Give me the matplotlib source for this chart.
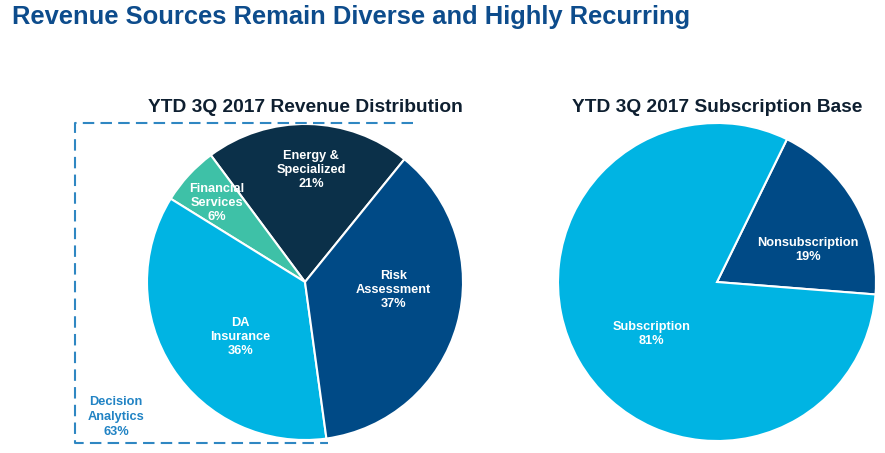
import matplotlib.pyplot as plt
from matplotlib.lines import Line2D

plt.rcParams["font.family"] = ["Liberation Sans", "DejaVu Sans"]

# Revenue distribution (left pie), counter-clockwise from the Energy slice
rev_labels = ["Energy &\nSpecialized", "Financial\nServices", "DA\nInsurance", "Risk\nAssessment"]
rev_values = [21, 6, 36, 37]
rev_colors = ["#0b3049", "#3ec1a7", "#00b4e3", "#004a86"]

# Subscription base (right pie)
sub_labels = ["Nonsubscription", "Subscription"]
sub_values = [19, 81]
sub_colors = ["#004a86", "#00b4e3"]

da_label = "Decision\nAnalytics"
da_value = 63

W, H = 885, 453
fig = plt.figure(figsize=(W / 100, H / 100), dpi=100)


def pie_axes(cx, cy, r):
    ax = fig.add_axes([(cx - r) / W, (H - cy - r) / H, 2 * r / W, 2 * r / H])
    return ax


def finish(ax):
    ax.set_xlim(-1, 1)
    ax.set_ylim(-1, 1)
    ax.axis("off")


# left pie
ax1 = pie_axes(305, 282, 158)
ax1.pie(rev_values, colors=rev_colors, startangle=51, counterclock=True,
        radius=1, center=(0, 0), frame=True,
        wedgeprops=dict(edgecolor="white", linewidth=1.5))
finish(ax1)
rev_pos = [(0.04, 0.71), (-0.56, 0.50), (-0.41, -0.35), (0.56, -0.05)]
for lab, val, (x, y) in zip(rev_labels, rev_values, rev_pos):
    ax1.text(x, y, f"{lab}\n{val}%", ha="center", va="center", color="white",
             fontsize=9.2, fontweight="bold", linespacing=1.22)

# right pie
ax2 = pie_axes(717, 282, 159)
ax2.pie(sub_values, colors=sub_colors, startangle=-4.5, counterclock=True,
        radius=1, center=(0, 0), frame=True,
        wedgeprops=dict(edgecolor="white", linewidth=1.5))
finish(ax2)
sub_pos = [(0.57, 0.2), (-0.41, -0.33)]
for lab, val, (x, y) in zip(sub_labels, sub_values, sub_pos):
    ax2.text(x, y, f"{lab}\n{val}%", ha="center", va="center", color="white",
             fontsize=9.2, fontweight="bold", linespacing=1.22)

# titles
fig.text(12 / W, 1 - 17 / H, "Revenue Sources Remain Diverse and Highly Recurring",
         ha="left", va="center", fontsize=18.4, fontweight="bold", color="#0d4c8c")
fig.text(305 / W, 1 - 107 / H, "YTD 3Q 2017 Revenue Distribution",
         ha="center", va="center", fontsize=13.8, fontweight="bold", color="#0e1f30")
fig.text(717 / W, 1 - 107 / H, "YTD 3Q 2017 Subscription Base",
         ha="center", va="center", fontsize=13.8, fontweight="bold", color="#0e1f30")

# dashed bracket around Decision Analytics
xs = [413, 75, 75, 328]
ys = [123, 123, 443, 443]
fig.add_artist(Line2D([x / W for x in xs], [1 - y / H for y in ys],
                      color="#2f87c2", linewidth=1.5, linestyle=(0, (5.5, 3))))
fig.text(116 / W, 1 - 417 / H, f"{da_label}\n{da_value}%", ha="center", va="center",
         fontsize=9.2, fontweight="bold", color="#2183c4", linespacing=1.3)

fig.savefig("out.png", dpi=100)
